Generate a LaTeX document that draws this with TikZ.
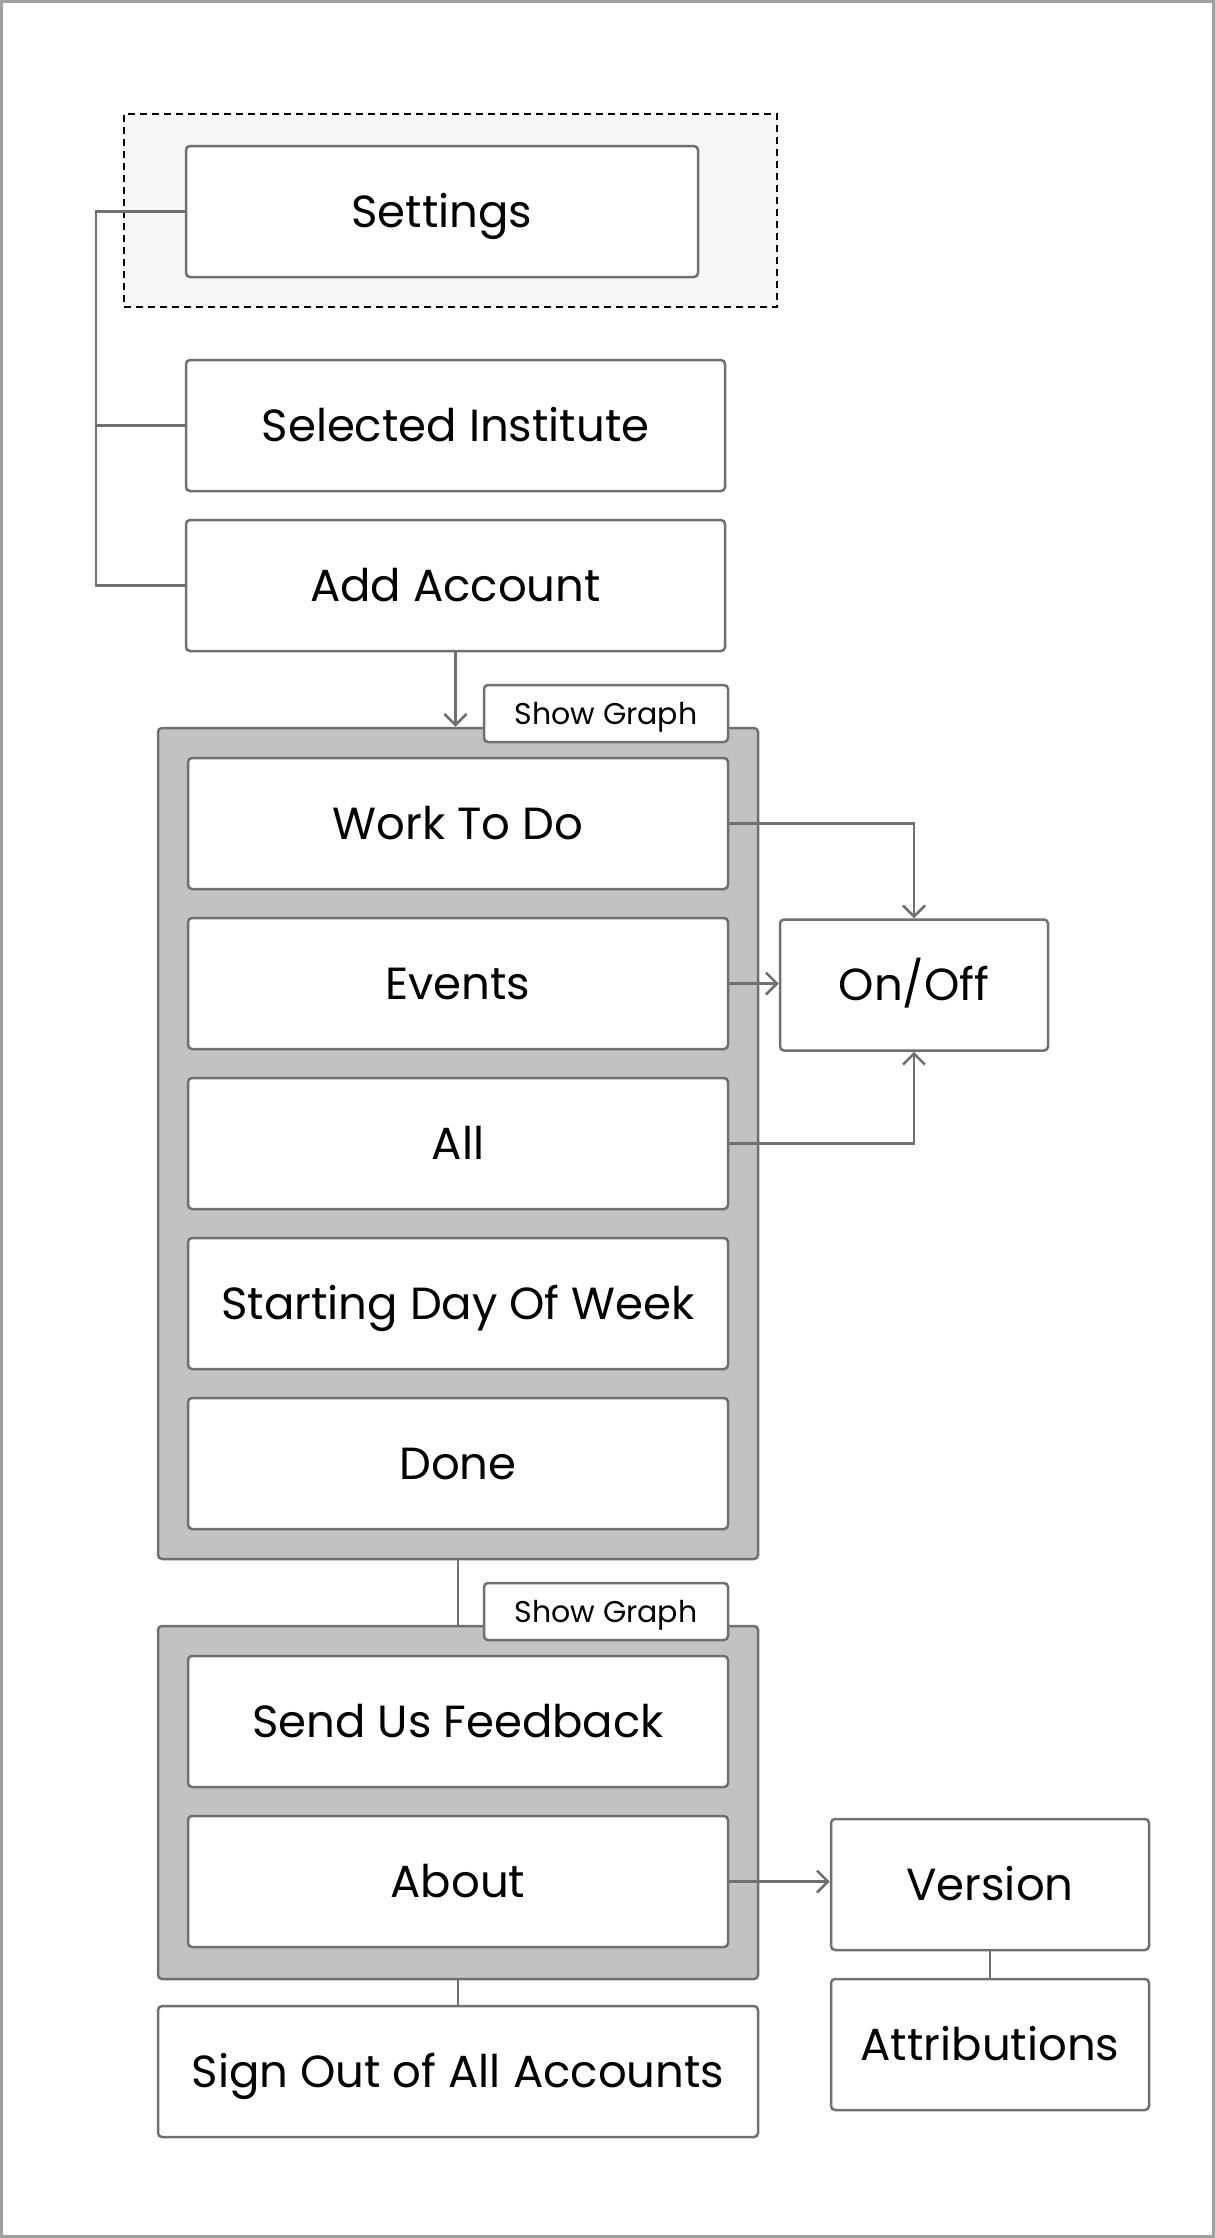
\documentclass[tikz,border=0pt]{standalone}
\usepackage{fontspec}
\setmainfont{Poppins}
\usetikzlibrary{arrows.meta,positioning}
\definecolor{linegray}{HTML}{707070}
\definecolor{panelgray}{HTML}{C2C2C2}
\definecolor{framegray}{HTML}{A0A0A0}
\definecolor{focusfill}{HTML}{F7F7F7}
\tikzset{
    menubox/.style={draw=linegray, fill=white, line width=2.5pt, rounded corners=4pt,
        minimum height=131pt, inner sep=0pt, text height=31pt, text depth=0pt,
        font=\fontsize{45}{54}\selectfont},
    tabbox/.style={draw=linegray, fill=white, line width=2.5pt, rounded corners=4pt,
        minimum width=244pt, minimum height=57pt, inner sep=0pt, text height=21pt, text depth=0pt,
        font=\fontsize{30}{36}\selectfont},
    panel/.style={draw=linegray, fill=panelgray, line width=2.5pt, rounded corners=4pt,
        minimum width=600pt, inner sep=0pt},
    link/.style={draw=linegray, line width=2.5pt},
    arrow/.style={link, -{Straight Barb[length=11pt, width=22pt, line width=2.5pt]}},
}
\begin{document}
\begin{tikzpicture}[x=1pt, y=-1pt]
    \useasboundingbox (0,0) rectangle (1215,2238);
    \draw[framegray, line width=3pt] (1.5,1.5) rectangle (1213.5,2236.5);

    % top of the menu
    \node[draw=black, fill=focusfill, line width=2.5pt, dash pattern=on 7pt off 5pt,
        minimum width=653pt, minimum height=193pt, inner sep=0pt] (focus) at (450.5,210.5) {};
    \node[menubox, minimum width=512pt] (settings) at (442,211.5) {Settings};
    \node[menubox, minimum width=539pt] (institute) at (455.5,425.5) {Selected Institute};
    \node[menubox, minimum width=539pt] (account) at (455.5,585.5) {Add Account};
    \coordinate (tree-top) at (96,211.5);
    \coordinate (tree-mid) at (96,425.5);
    \coordinate (tree-end) at (96,585.5);
    \draw[link] (settings.west) -- (tree-top) -- (tree-end) -- (account.west);
    \draw[link] (tree-mid) -- (institute.west);

    % first group
    \node[panel, minimum height=831pt] (panel-1) at (458,1143.5) {};
    \node[tabbox] (tab-1) at (606,713.5) {Show Graph};
    \foreach \index/\height/\label in {1/823.5/Work To Do,2/983.5/Events,3/1143.5/All,
            4/1303.5/Starting Day Of Week,5/1463.5/Done}
        \node[menubox, minimum width=540pt] (item-\index) at (458,\height) {\label};
    \draw[arrow] (account.south) -- (account.south |- panel-1.north);
    \node[menubox, minimum width=268pt] (toggle) at (914,985) {On/Off};
    \draw[arrow] (item-1.east) -| (toggle.north);
    \draw[arrow] (item-2.east) -- (item-2.east -| toggle.west);
    \draw[arrow] (item-3.east) -| (toggle.south);

    % second group
    \node[panel, minimum height=353pt] (panel-2) at (458,1802.5) {};
    \node[tabbox] (tab-2) at (606,1611.5) {Show Graph};
    \draw[link] (panel-1.south) -- (panel-2.north);
    \node[menubox, minimum width=540pt] (feedback) at (458,1721.5) {Send Us Feedback};
    \node[menubox, minimum width=540pt] (about) at (458,1881.5) {About};
    \node[menubox, minimum width=318pt] (version) at (990,1884.5) {Version};
    \node[menubox, minimum width=318pt] (credits) at (990,2044.5) {Attributions};
    \draw[arrow] (about.east) -- (about.east -| version.west);
    \draw[link] (version.south) -- (credits.north);
    \node[menubox, minimum width=600pt] (signout) at (458,2071.5) {Sign Out of All Accounts};
    \draw[link] (panel-2.south) -- (signout.north);
\end{tikzpicture}
\end{document}
